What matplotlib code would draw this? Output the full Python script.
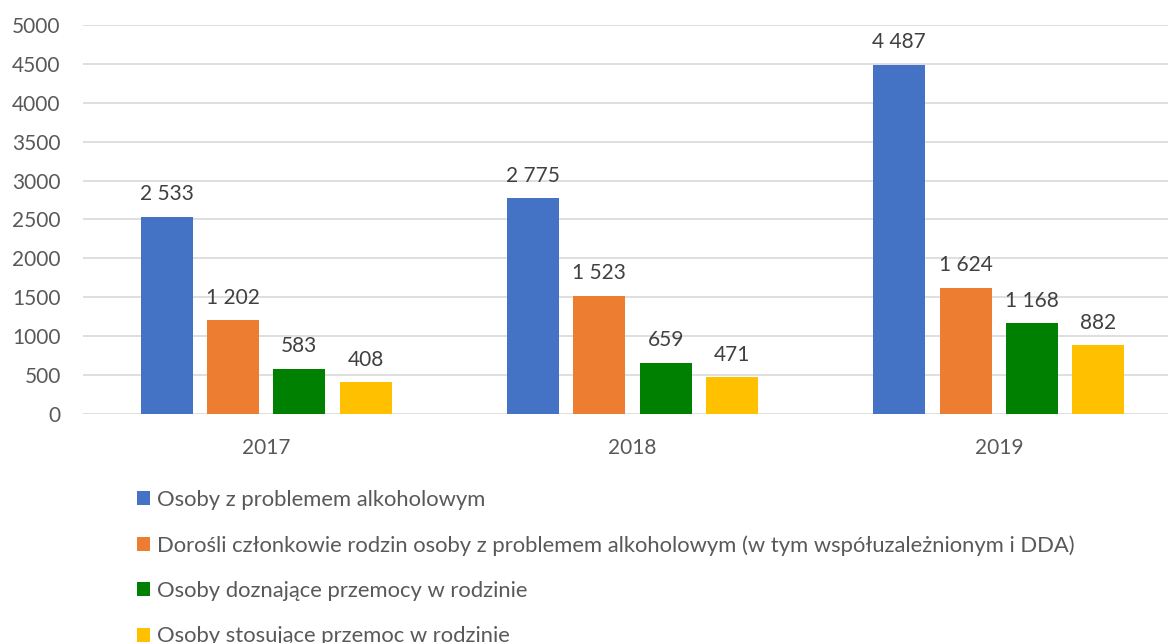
import matplotlib.pyplot as plt
import numpy as np
from matplotlib.patches import Patch

plt.rcParams["font.family"] = ["Lato", "DejaVu Sans"]

years = ["2017", "2018", "2019"]
series_names = [
    "Osoby z problemem alkoholowym",
    "Dorośli członkowie rodzin osoby z problemem alkoholowym (w tym współuzależnionym i DDA)",
    "Osoby doznające przemocy w rodzinie",
    "Osoby stosujące przemoc w rodzinie",
]
alcohol = [2533, 2775, 4487]
family = [1202, 1523, 1624]
victims = [583, 659, 1168]
perpetrators = [408, 471, 882]
colors = ["#4472C4", "#ED7D31", "#008000", "#FFC000"]

TEXT = "#595959"
FS = 15


def fmt(v):
    return f"{v:,}".replace(",", " ")


fig = plt.figure(figsize=(11.68, 6.43), dpi=100)
# plot area runs past the right edge (the original is cropped there)
ax = fig.add_axes([83 / 1168, 1 - 414 / 643, 1099 / 1168, (414 - 25) / 643])

x = np.arange(len(years))
width = 0.142
step = 0.181
all_series = [alcohol, family, victims, perpetrators]
for i, (vals, col) in enumerate(zip(all_series, colors)):
    pos = x + (i - 1.5) * step
    bars = ax.bar(pos, vals, width, color=col, zorder=3)
    for b, v in zip(bars, vals):
        ax.annotate(fmt(v), (b.get_x() + b.get_width() / 2, v),
                    xytext=(0, 9), textcoords="offset points",
                    ha="center", va="bottom", fontsize=FS, color="#404040")

ax.set_xlim(-0.5, 2.5)
ax.set_ylim(0, 5000)
ax.set_yticks(np.arange(0, 5001, 500))
ax.set_xticks(x)
ax.set_xticklabels(years)
ax.grid(axis="y", color="#D9D9D9", linewidth=1.2, zorder=0)
for s in ax.spines.values():
    s.set_visible(False)
ax.tick_params(axis="both", length=0, labelsize=FS, labelcolor=TEXT)
ax.tick_params(axis="x", pad=17)
ax.tick_params(axis="y", pad=16)

# legend below the plot; last row is cut by the bottom edge like the original
handles = [Patch(facecolor=c, edgecolor="none") for c in colors]
fig.legend(handles, series_names, loc="upper left",
           bbox_to_anchor=(137 / 1168, 1 - 490 / 643), frameon=False,
           fontsize=15.8, labelcolor=TEXT, borderpad=0, borderaxespad=0,
           handlelength=0.6, handleheight=0.6, handletextpad=0.3,
           labelspacing=1.15)

fig.savefig("out.png", dpi=100)
